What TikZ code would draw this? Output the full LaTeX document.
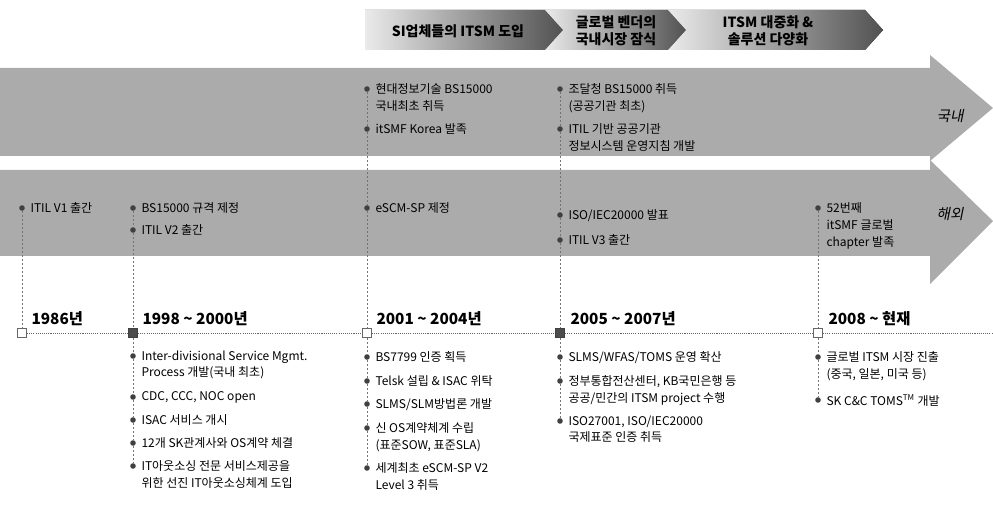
\documentclass[tikz,border=0pt]{standalone}
\usepackage{fontspec}
\setmainfont{Noto Sans CJK KR}
\newfontfamily\slantkr[FakeSlant=0.2]{Noto Sans CJK KR}

\tikzset{every picture/.style={line width=0.75pt}}
\tikzset{
  bullet/.style={circle, fill=black!75, inner sep=0pt, minimum size=4.2pt},
  itemtext/.style={anchor=north west, inner sep=0pt, align=left, font=\fontsize{9}{12.6}\selectfont},
  yearlbl/.style={anchor=base west, inner sep=0pt, font=\fontsize{11.5}{13}\selectfont\bfseries},
  markopen/.style={draw=black!60, fill=white, minimum size=7pt, inner sep=0pt, line width=0.5pt},
  markfull/.style={draw=black!75, fill=black!70, minimum size=7pt, inner sep=0pt, line width=0.5pt},
  vline/.style={draw=black!55, line width=0.5pt, dash pattern=on 1.5pt off 1.5pt},
  tline/.style={draw=black!60, line width=0.6pt, dash pattern=on 0.8pt off 0.8pt},
  bandarrow/.style={fill=black!33, draw=none},
  chev/.style={left color=black!8, right color=black!68, draw=none},
  chevtext/.style={font=\fontsize{10.5}{12.5}\selectfont\bfseries, align=center, inner sep=0pt},
  sidelbl/.style={font=\fontsize{11}{12}\selectfont\slantkr, inner sep=0pt}
}

\begin{document}
\begin{tikzpicture}[x=0.75pt,y=0.75pt,yscale=-1,xscale=1]
\useasboundingbox (0,0) rectangle (993,506);

%Phase chevrons
\fill [chev] (365,10) -- (545,10) -- (563,30) -- (545,50) -- (365,50) -- cycle ;
\fill [chev] (545,10) -- (668,10) -- (686,30) -- (668,50) -- (545,50) -- (563,30) -- cycle ;
\fill [chev] (668,10) -- (865,10) -- (883,30) -- (865,50) -- (668,50) -- (686,30) -- cycle ;
\node [chevtext] (ph1) at (458,31) {SI업체들의 ITSM 도입};
\node [chevtext] (ph2) at (616,31) {글로벌 벤더의\\국내시장 잠식};
\node [chevtext] (ph3) at (768,31) {ITSM 대중화 \&\\솔루션 다양화};

%Band arrows
\fill [bandarrow] (0,68) -- (930,68) -- (930,55) -- (993,108) -- (930,161) -- (930,156) -- (0,156) -- cycle ;
\fill [bandarrow] (0,170) -- (930,170) -- (930,160) -- (993,221) -- (930,284) -- (930,256) -- (0,256) -- cycle ;
\node [sidelbl] (dom) at (950,116) {국내};
\node [sidelbl] (ovs) at (950,214) {해외};

%Period markers
\node [markopen] (m1) at (22,333) {};
\node [markfull] (m2) at (133,333) {};
\node [markopen] (m3) at (367,333) {};
\node [markfull] (m4) at (560,333) {};
\node [markopen] (m5) at (818,333) {};
\coordinate (tlend) at (993,333);

% Text Node
\node [yearlbl] (y1) at (31,324) {1986년};
\node [yearlbl] (y2) at (142,324) {1998 \textasciitilde{} 2000년};
\node [yearlbl] (y3) at (376,324) {2001 \textasciitilde{} 2004년};
\node [yearlbl] (y4) at (570,324) {2005 \textasciitilde{} 2007년};
\node [yearlbl] (y5) at (828,324) {2008 \textasciitilde{} 현재};

%Bullets, column 1
\node [bullet] (a1) at (22,208) {};
\node [itemtext] (a1t) at (30,202) {ITIL V1 출간};

%Bullets, column 2
\node [bullet] (b1) at (133,208) {};
\node [itemtext] (b1t) at (141,202) {BS15000 규격 제정};
\node [bullet] (b2) at (133,230) {};
\node [itemtext] (b2t) at (141,224) {ITIL V2 출간};
\node [bullet] (b3) at (133,356) {};
\node [itemtext] (b3t) at (141,350) {Inter-divisional Service Mgmt.\\Process 개발(국내 최초)};
\node [bullet] (b4) at (133,397) {};
\node [itemtext] (b4t) at (141,391) {CDC, CCC, NOC open};
\node [bullet] (b5) at (133,420) {};
\node [itemtext] (b5t) at (141,414) {ISAC 서비스 개시};
\node [bullet] (b6) at (133,443) {};
\node [itemtext] (b6t) at (141,437) {12개 SK관계사와 OS계약 체결};
\node [bullet] (b7) at (133,466) {};
\node [itemtext] (b7t) at (141,460) {IT아웃소싱 전문 서비스제공을\\위한 선진 IT아웃소싱체계 도입};

%Bullets, column 3
\node [bullet] (c1) at (367,89) {};
\node [itemtext] (c1t) at (375,83) {현대정보기술 BS15000\\국내최초 취득};
\node [bullet] (c2) at (367,129) {};
\node [itemtext] (c2t) at (375,123) {itSMF Korea 발족};
\node [bullet] (c3) at (367,208) {};
\node [itemtext] (c3t) at (375,202) {eSCM-SP 제정};
\node [bullet] (c4) at (367,357) {};
\node [itemtext] (c4t) at (375,351) {BS7799 인증 획득};
\node [bullet] (c5) at (367,381) {};
\node [itemtext] (c5t) at (375,375) {Telsk 설립 \& ISAC 위탁};
\node [bullet] (c6) at (367,404) {};
\node [itemtext] (c6t) at (375,398) {SLMS/SLM방법론 개발};
\node [bullet] (c7) at (367,428) {};
\node [itemtext] (c7t) at (375,422) {신 OS계약체계 수립\\(표준SOW, 표준SLA)};
\node [bullet] (c8) at (367,468) {};
\node [itemtext] (c8t) at (375,462) {세계최초 eSCM-SP V2\\Level 3 취득};

%Bullets, column 4
\node [bullet] (d1) at (560,89) {};
\node [itemtext] (d1t) at (568,83) {조달청 BS15000 취득\\(공공기관 최초)};
\node [bullet] (d2) at (560,129) {};
\node [itemtext] (d2t) at (568,123) {ITIL 기반 공공기관\\정보시스템 운영지침 개발};
\node [bullet] (d3) at (560,215) {};
\node [itemtext] (d3t) at (568,209) {ISO/IEC20000 발표};
\node [bullet] (d4) at (560,240) {};
\node [itemtext] (d4t) at (568,234) {ITIL V3 출간};
\node [bullet] (d5) at (560,357) {};
\node [itemtext] (d5t) at (568,351) {SLMS/WFAS/TOMS 운영 확산};
\node [bullet] (d6) at (560,381) {};
\node [itemtext] (d6t) at (568,375) {정부통합전산센터, KB국민은행 등\\공공/민간의 ITSM project 수행};
\node [bullet] (d7) at (560,421) {};
\node [itemtext] (d7t) at (568,415) {ISO27001, ISO/IEC20000\\국제표준 인증 취득};

%Bullets, column 5
\node [bullet] (e1) at (818,208) {};
\node [itemtext] (e1t) at (826,202) {52번째\\itSMF 글로벌\\chapter 발족};
\node [bullet] (e2) at (818,357) {};
\node [itemtext] (e2t) at (826,351) {글로벌 ITSM 시장 진출\\(중국, 일본, 미국 등)};
\node [bullet] (e3) at (818,400) {};
\node [itemtext] (e3t) at (826,394) {SK C\&C TOMS\textsuperscript{TM} 개발};

%Timeline and drop lines
\draw [tline] (m1) -- (m2) -- (m3) -- (m4) -- (m5) -- (tlend) ;
\draw [vline] (a1) -- (m1) ;
\draw [vline] (b1) -- (b2) -- (m2) -- (b3) -- (b4) -- (b5) -- (b6) -- (b7) ;
\draw [vline] (c1) -- (c2) -- (c3) -- (m3) -- (c4) -- (c5) -- (c6) -- (c7) -- (c8) ;
\draw [vline] (d1) -- (d2) -- (d3) -- (d4) -- (m4) -- (d5) -- (d6) -- (d7) ;
\draw [vline] (e1) -- (m5) -- (e2) -- (e3) ;

\end{tikzpicture}
\end{document}
